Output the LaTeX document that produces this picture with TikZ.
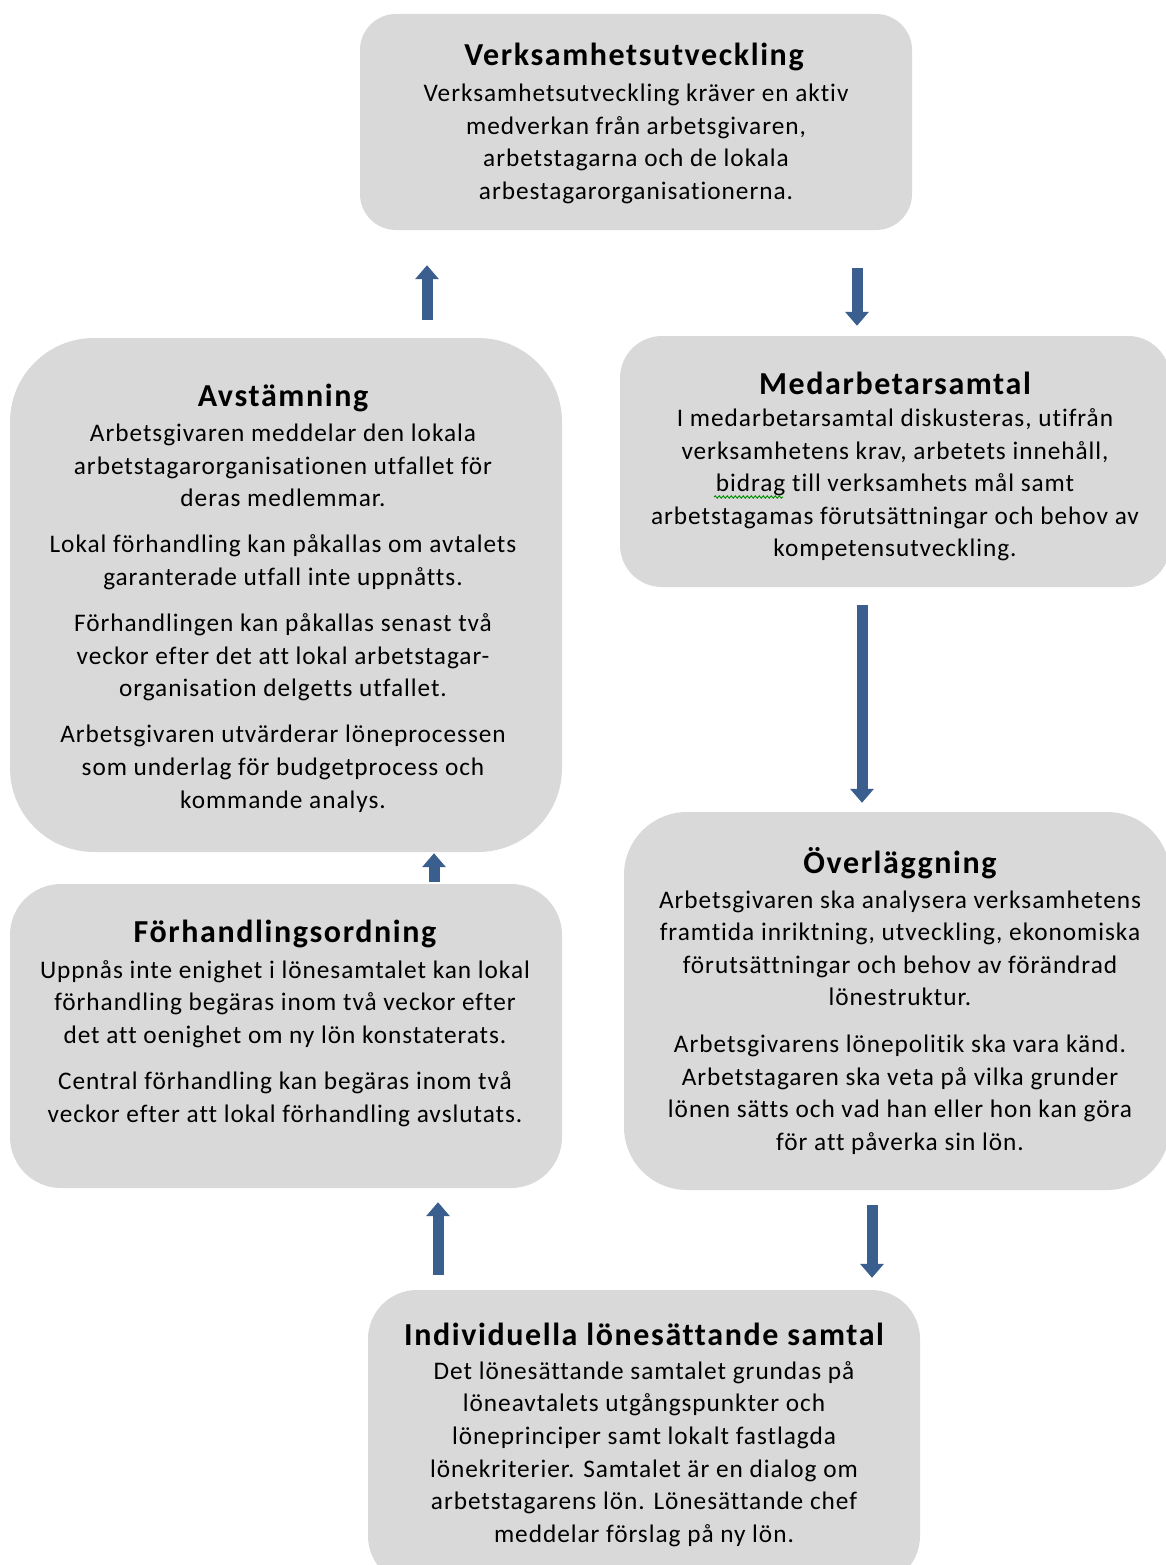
\documentclass[tikz,border=0pt]{standalone}
\usepackage{fontspec}
\setmainfont{Carlito}[Ligatures={NoCommon}]
\newfontfamily\bodyfont{Carlito}[Ligatures={NoCommon},LetterSpace=3.8]
\newfontfamily\titlefont{Carlito}[Ligatures={NoCommon},LetterSpace=5]
\usetikzlibrary{arrows.meta,decorations.pathmorphing}
\definecolor{boxgray}{HTML}{D9D9D9}
\definecolor{arrowblue}{HTML}{3A5F8F}
\tikzset{
  panel/.style={fill=boxgray, draw=none, inner sep=0pt},
  ttl/.style={font=\titlefont\fontsize{32}{36}\selectfont\bfseries, inner sep=0pt, text=black},
  bodytxt/.style={font=\bodyfont\fontsize{25.3}{32.6}\selectfont, align=center, inner sep=0pt, text=black},
  blockarrow/.style={draw=arrowblue, line width=11pt, -{Triangle[width=23pt,length=14pt]}, arrowblue},
}
\begin{document}
\begin{tikzpicture}[x=1pt,y=-1pt]
\useasboundingbox (0,0) rectangle (1166,1565);
\fill[white] (0,0) rectangle (1166,1565);
\clip (0,0) rectangle (1166,1565);

% boxes
\node[panel, rounded corners=36pt, minimum width=552pt, minimum height=216pt] (top) at (636,122) {};
\node[panel, rounded corners=84pt, minimum width=552pt, minimum height=514pt] (avst) at (286,595) {};
\node[panel, rounded corners=42pt, minimum width=550pt, minimum height=251pt] (medar) at (895,461.5) {};
\node[panel, rounded corners=51pt, minimum width=552pt, minimum height=304pt] (forh) at (286,1036) {};
\node[panel, rounded corners=63pt, minimum width=546pt, minimum height=378pt] (overl) at (897,1001) {};
\node[panel, rounded corners=49pt, minimum width=552pt, minimum height=295pt] (indiv) at (644,1437.5) {};

% texts
\node[ttl] (topT) at (634,57) {Verksamhetsutveckling};
\node[bodytxt] (topB) at (636,144) {Verksamhetsutveckling kräver en aktiv\\medverkan från arbetsgivaren,\\arbetstagarna och de lokala\\arbestagarorganisationerna.};

\node[ttl] (avstT) at (283,398) {Avstämning};
\node[bodytxt] (avstB) at (283,618) {Arbetsgivaren meddelar den lokala\\arbetstagarorganisationen utfallet för\\deras medlemmar.\\[13.5pt]
Lokal förhandling kan påkallas om avtalets\\garanterade utfall inte uppnåtts.\\[13.5pt]
Förhandlingen kan påkallas senast två\\veckor efter det att lokal arbetstagar-\\organisation delgetts utfallet.\\[13.5pt]
Arbetsgivaren utvärderar löneprocessen\\som underlag för budgetprocess och\\kommande analys.};

\node[ttl] (medarT) at (895,383) {Medarbetarsamtal};
\node[bodytxt] (medarB) at (895,485) {I medarbetarsamtal diskusteras, utifrån\\verksamhetens krav, arbetets innehåll,\\bidrag till verksamhets mål samt\\arbetstagamas förutsättningar och behov av\\kompetensutveckling.};
\draw[green!55!black, line width=0.9pt, decorate, decoration={snake, amplitude=1.2pt, segment length=4pt}] (714,497) -- (783,497);

\node[ttl] (forhT) at (285,934) {Förhandlingsordning};
\node[bodytxt] (forhB) at (285,1043.5) {Uppnås inte enighet i lönesamtalet kan lokal\\förhandling begäras inom två veckor efter\\det att oenighet om ny lön konstaterats.\\[13.5pt]
Central förhandling kan begäras inom två\\veckor efter att lokal förhandling avslutats.};

\node[ttl] (overlT) at (900,863) {Överläggning};
\node[bodytxt] (overlB) at (900,1022.5) {Arbetsgivaren ska analysera verksamhetens\\framtida inriktning, utveckling, ekonomiska\\förutsättningar och behov av förändrad\\lönestruktur.\\[14pt]
Arbetsgivarens lönepolitik ska vara känd.\\Arbetstagaren ska veta på vilka grunder\\lönen sätts och vad han eller hon kan göra\\för att påverka sin lön.};

\node[ttl] (indivT) at (644,1334) {Individuella lönesättande samtal};
\node[bodytxt] (indivB) at (644,1454) {Det lönesättande samtalet grundas på\\löneavtalets utgångspunkter och\\löneprinciper samt lokalt fastlagda\\lönekriterier. Samtalet är en dialog om\\arbetstagarens lön. Lönesättande chef\\meddelar förslag på ny lön.};

% arrows
\coordinate (x1) at (427,0);
\coordinate (x2) at (857,0);
\coordinate (x3) at (862,0);
\coordinate (x4) at (434,0);
\coordinate (x5) at (438,0);
\coordinate (x6) at (872,0);
\draw[blockarrow, shorten <=18pt, shorten >=35pt] (avst.north -| x1) -- (top.south -| x1);
\draw[blockarrow, shorten <=38pt, shorten >=10pt] (top.south -| x2) -- (medar.north -| x2);
\draw[blockarrow, shorten <=18pt, shorten >=9pt] (medar.south -| x3) -- (overl.north -| x3);
\draw[blockarrow, shorten <=2pt, shorten >=1pt] (forh.north -| x4) -- (avst.south -| x4);
\draw[blockarrow, shorten <=15pt, shorten >=14pt] (indiv.north -| x5) -- (forh.south -| x5);
\draw[blockarrow, shorten <=15pt, shorten >=12pt] (overl.south -| x6) -- (indiv.north -| x6);
\end{tikzpicture}
\end{document}
